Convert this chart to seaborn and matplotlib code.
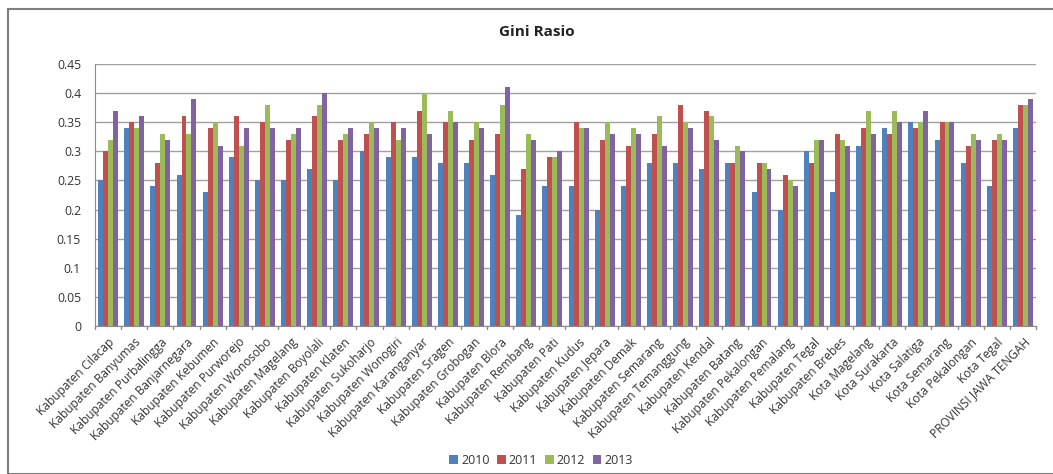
import numpy as np
import pandas as pd
import seaborn as sns
from matplotlib import pyplot as plt
from matplotlib.patches import Rectangle

regions = [
    "Kabupaten Cilacap", "Kabupaten Banyumas", "Kabupaten Purbalingga",
    "Kabupaten Banjarnegara", "Kabupaten Kebumen", "Kabupaten Purworejo",
    "Kabupaten Wonosobo", "Kabupaten Magelang", "Kabupaten Boyolali",
    "Kabupaten Klaten", "Kabupaten Sukoharjo", "Kabupaten Wonogiri",
    "Kabupaten Karanganyar", "Kabupaten Sragen", "Kabupaten Grobogan",
    "Kabupaten Blora", "Kabupaten Rembang", "Kabupaten Pati",
    "Kabupaten Kudus", "Kabupaten Jepara", "Kabupaten Demak",
    "Kabupaten Semarang", "Kabupaten Temanggung", "Kabupaten Kendal",
    "Kabupaten Batang", "Kabupaten Pekalongan", "Kabupaten Pemalang",
    "Kabupaten Tegal", "Kabupaten Brebes", "Kota Magelang",
    "Kota Surakarta", "Kota Salatiga", "Kota Semarang", "Kota Pekalongan",
    "Kota Tegal", "PROVINSI JAWA TENGAH",
]
years = ["2010", "2011", "2012", "2013"]

gini_2010 = [0.25, 0.34, 0.24, 0.26, 0.23, 0.29, 0.25, 0.25, 0.27, 0.25,
             0.30, 0.29, 0.29, 0.28, 0.28, 0.26, 0.19, 0.24, 0.24, 0.20,
             0.24, 0.28, 0.28, 0.27, 0.28, 0.23, 0.20, 0.30, 0.23, 0.31,
             0.34, 0.35, 0.32, 0.28, 0.24, 0.34]
gini_2011 = [0.30, 0.35, 0.28, 0.36, 0.34, 0.36, 0.35, 0.32, 0.36, 0.32,
             0.33, 0.35, 0.37, 0.35, 0.32, 0.33, 0.27, 0.29, 0.35, 0.32,
             0.31, 0.33, 0.38, 0.37, 0.28, 0.28, 0.26, 0.28, 0.33, 0.34,
             0.33, 0.34, 0.35, 0.31, 0.32, 0.38]
gini_2012 = [0.32, 0.34, 0.33, 0.33, 0.35, 0.31, 0.38, 0.33, 0.38, 0.33,
             0.35, 0.32, 0.40, 0.37, 0.35, 0.38, 0.33, 0.29, 0.34, 0.35,
             0.34, 0.36, 0.35, 0.36, 0.31, 0.28, 0.25, 0.32, 0.32, 0.37,
             0.37, 0.35, 0.35, 0.33, 0.33, 0.38]
gini_2013 = [0.37, 0.36, 0.32, 0.39, 0.31, 0.34, 0.34, 0.34, 0.40, 0.34,
             0.34, 0.34, 0.33, 0.35, 0.34, 0.41, 0.32, 0.30, 0.34, 0.33,
             0.33, 0.31, 0.34, 0.32, 0.30, 0.27, 0.24, 0.32, 0.31, 0.33,
             0.35, 0.37, 0.35, 0.32, 0.32, 0.39]

colors = ["#4F81BD", "#C0504D", "#9BBB59", "#8064A2"]


def main():
    df = pd.DataFrame({
        "region": regions * 4,
        "year": sum([[y] * len(regions) for y in years], []),
        "gini": gini_2010 + gini_2011 + gini_2012 + gini_2013,
    })

    sns.set_style("white")
    plt.rcParams["font.family"] = ["Open Sans", "DejaVu Sans"]

    W, H = 1053, 474
    fig = plt.figure(figsize=(W / 100, H / 100), dpi=100)
    # plot area in pixels: x 95..1036, y 64..326
    ax = fig.add_axes([95 / W, 1 - 326 / H, (1036 - 95) / W, (326 - 64) / H])

    sns.barplot(data=df, x="region", y="gini", hue="year", palette=colors,
                width=0.76, saturation=1, ax=ax, zorder=3, legend=True)
    for p in ax.patches:
        p.set_edgecolor("none")

    ax.set_ylim(0, 0.45)
    ax.set_xlim(-0.5, len(regions) - 0.5)
    yt = np.arange(0, 0.451, 0.05)
    ax.set_yticks(yt)
    ax.set_yticklabels(["0" if v == 0 else f"{v:.2f}".rstrip("0") for v in yt],
                       fontsize=8.8, color="#333333")
    ax.set_xticks(range(len(regions)))
    ax.set_xticklabels(regions, rotation=45, ha="right", rotation_mode="anchor",
                       fontsize=8.6, color="#333333")
    ax.set_xlabel("")
    ax.set_ylabel("")
    ax.grid(axis="y", color="#a0a0a0", linewidth=1, zorder=0)
    for side in ["top", "right"]:
        ax.spines[side].set_visible(False)
    ax.spines["left"].set_color("#8c8c8c")
    ax.spines["bottom"].set_color("#8c8c8c")
    ax.tick_params(axis="y", length=4, color="#8c8c8c", pad=6)
    ax.tick_params(axis="x", length=0, pad=7)
    for i in range(len(regions) + 1):
        ax.plot([i - 0.5, i - 0.5], [0, -0.006], color="#8c8c8c", lw=1,
                clip_on=False, zorder=4)

    fig.text(537 / W, 1 - 32 / H, "Gini Rasio", fontsize=11, fontweight="bold",
             ha="center", va="center", color="#222222")

    leg = fig.legend(*ax.get_legend_handles_labels(), loc="center",
                     bbox_to_anchor=(541 / W, 1 - 460 / H), ncol=4,
                     frameon=False, fontsize=9, handlelength=0.7,
                     handleheight=0.7, handletextpad=0.25, columnspacing=0.6)
    ax.get_legend().remove()
    for t in leg.get_texts():
        t.set_color("#333333")

    fig.patches.append(Rectangle((8 / W, 0), 1, 1 - 9 / H,
                                 transform=fig.transFigure, fill=False,
                                 edgecolor="#7f7f7f", linewidth=1.5))

    fig.savefig("out.png", dpi=100)


if __name__ == "__main__":
    main()
